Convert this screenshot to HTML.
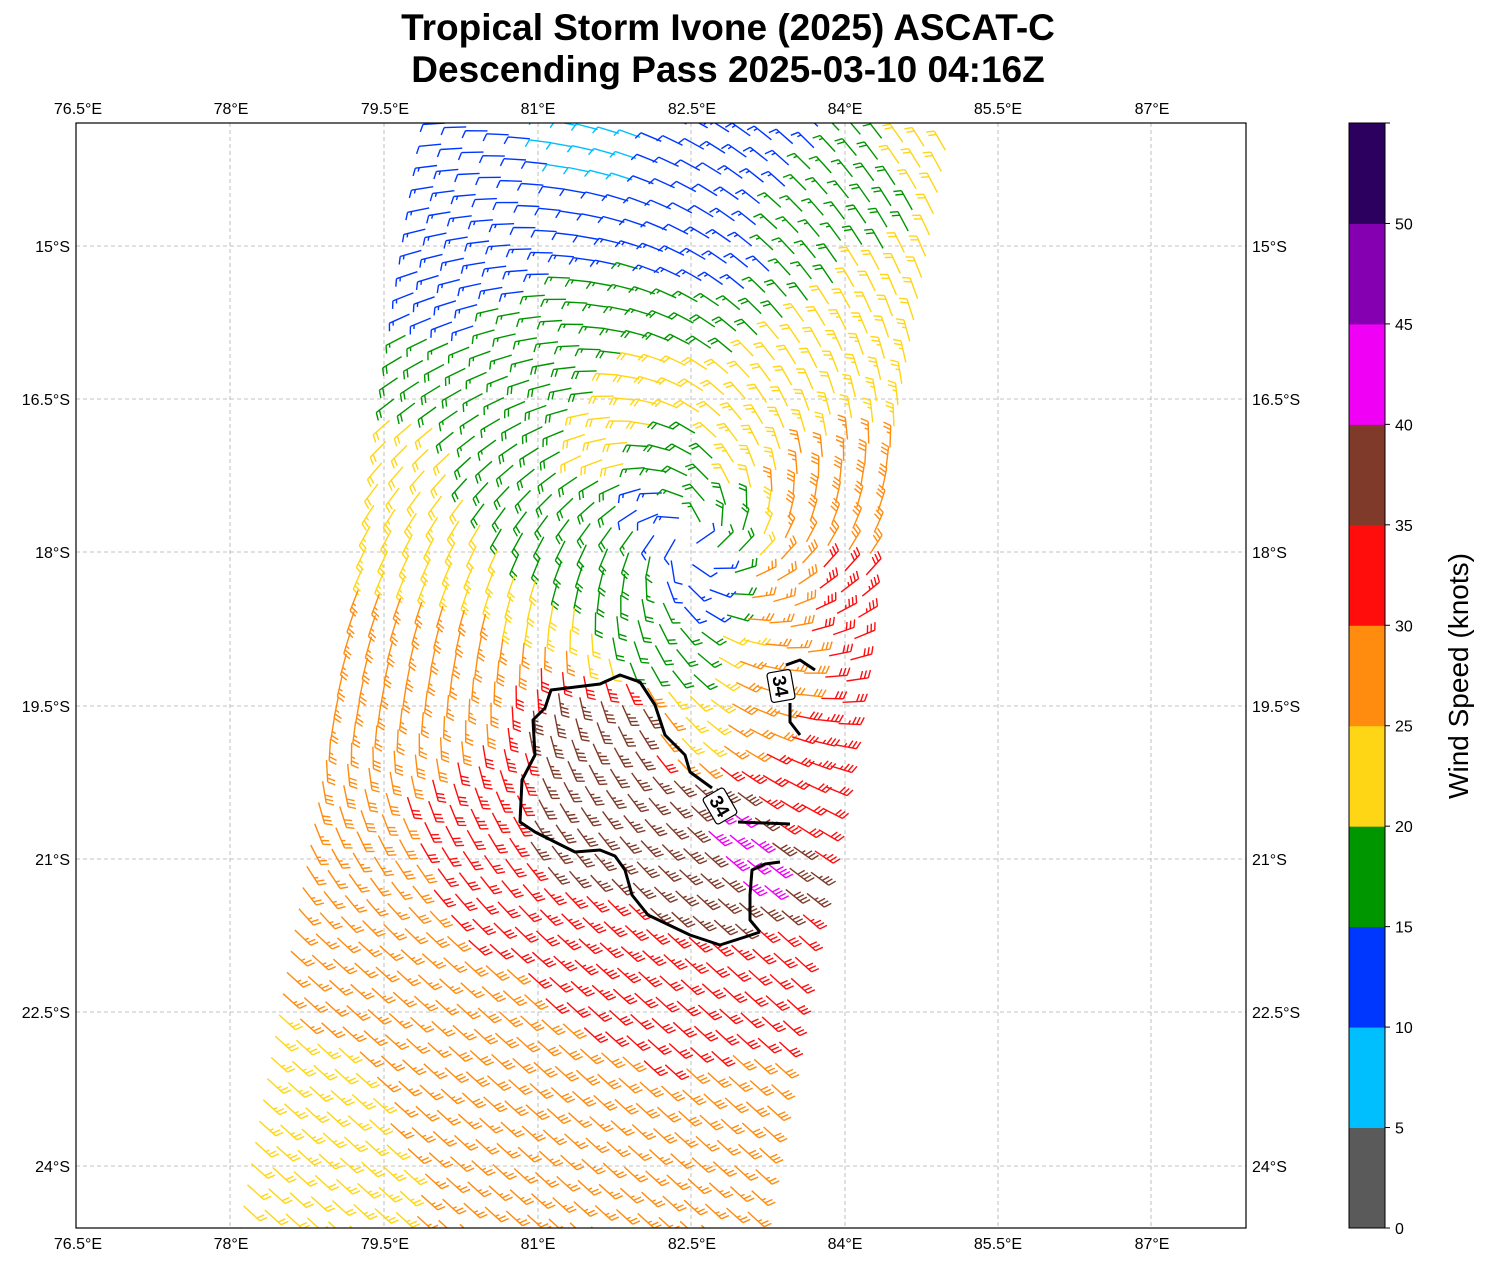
<!DOCTYPE html>
<html><head><meta charset="utf-8"><style>
body{margin:0;background:#fff;}
svg{display:block;font-family:"Liberation Sans",sans-serif;}
</style></head><body>
<svg id="s" width="1485" height="1264" viewBox="0 0 1485 1264" xmlns="http://www.w3.org/2000/svg">
<defs><clipPath id="cp"><rect x="76" y="123" width="1170" height="1105"/></clipPath></defs>
<rect width="1485" height="1264" fill="#fff"/>
<text x="728" y="40" text-anchor="middle" font-size="37" font-weight="bold">Tropical Storm Ivone (2025) ASCAT-C</text>
<text x="728" y="82" text-anchor="middle" font-size="37" font-weight="bold">Descending Pass 2025-03-10 04:16Z</text>
<g stroke="#b0b0b0" stroke-width="0.8" stroke-dasharray="4,3">
<line x1="230" y1="123" x2="230" y2="1228"/><line x1="384" y1="123" x2="384" y2="1228"/><line x1="538" y1="123" x2="538" y2="1228"/><line x1="691" y1="123" x2="691" y2="1228"/><line x1="845" y1="123" x2="845" y2="1228"/><line x1="998" y1="123" x2="998" y2="1228"/><line x1="1151" y1="123" x2="1151" y2="1228"/>
<line x1="76" y1="246" x2="1246" y2="246"/><line x1="76" y1="399" x2="1246" y2="399"/><line x1="76" y1="552" x2="1246" y2="552"/><line x1="76" y1="706" x2="1246" y2="706"/><line x1="76" y1="859" x2="1246" y2="859"/><line x1="76" y1="1012" x2="1246" y2="1012"/><line x1="76" y1="1166" x2="1246" y2="1166"/>
</g>
<g id="barbs" clip-path="url(#cp)" fill="none" stroke-width="1.4" stroke-linecap="butt"></g>
<g fill="none" stroke="#000" stroke-width="3" stroke-linejoin="round">
<path d="M760,932 L750,920 L750,895 L752,870 L765,864 L780,862"/>
<path d="M760,932 L745,937 L720,945 L690,935 L648,915 L632,895 L625,870 L615,856 L600,850 L575,852 L535,832 L520,822 L522,780 L535,755 L533,720 L545,708 L551,690 L600,684 L620,675 L640,682 L655,705 L665,735 L685,755 L690,772 L712,788"/>
<path d="M738,822 L790,824"/>
<path d="M786,665 L800,660 L815,670"/>
<path d="M790,703 L790,722 L800,735"/>
</g>
<g transform="translate(720,806) rotate(60)"><rect x="-15" y="-12" width="30" height="24" rx="3" fill="#fff" stroke="#000" stroke-width="1.2"/><text x="0" y="7" text-anchor="middle" font-size="19" font-weight="bold">34</text></g>
<g transform="translate(781,686) rotate(80)"><rect x="-15" y="-12" width="30" height="24" rx="3" fill="#fff" stroke="#000" stroke-width="1.2"/><text x="0" y="7" text-anchor="middle" font-size="19" font-weight="bold">34</text></g>
<rect x="76" y="123" width="1170" height="1105" fill="none" stroke="#000" stroke-width="1.2"/>
<g font-size="16" text-anchor="middle">
<text x="78" y="114">76.5°E</text><text x="231" y="114">78°E</text><text x="385" y="114">79.5°E</text><text x="538" y="114">81°E</text><text x="692" y="114">82.5°E</text><text x="845" y="114">84°E</text><text x="998" y="114">85.5°E</text><text x="1152" y="114">87°E</text>
<text x="78" y="1249">76.5°E</text><text x="231" y="1249">78°E</text><text x="385" y="1249">79.5°E</text><text x="538" y="1249">81°E</text><text x="692" y="1249">82.5°E</text><text x="845" y="1249">84°E</text><text x="998" y="1249">85.5°E</text><text x="1152" y="1249">87°E</text>
</g>
<g font-size="16" text-anchor="end">
<text x="70" y="252">15°S</text><text x="70" y="405">16.5°S</text><text x="70" y="558">18°S</text><text x="70" y="712">19.5°S</text><text x="70" y="865">21°S</text><text x="70" y="1018">22.5°S</text><text x="70" y="1172">24°S</text>
</g>
<g font-size="16" text-anchor="start">
<text x="1252" y="252">15°S</text><text x="1252" y="405">16.5°S</text><text x="1252" y="558">18°S</text><text x="1252" y="712">19.5°S</text><text x="1252" y="865">21°S</text><text x="1252" y="1018">22.5°S</text><text x="1252" y="1172">24°S</text>
</g>
<g id="cb"></g>
<text transform="translate(1468,676) rotate(-90)" text-anchor="middle" font-size="28">Wind Speed (knots)</text>
</svg>
<script>
(function(){
var cols=["#5a5a5a","#00bfff","#0037ff","#009600","#ffd615","#ff8c0f","#ff0d0d","#7f3a2a","#f000f5","#8500b0","#2c005e"];
var cb=document.getElementById("cb"),h="";
var T0=123,B0=1228,st=(B0-T0)/11;
for(var i=0;i<11;i++){h+='<rect x="1349" y="'+(B0-(i+1)*st)+'" width="36" height="'+(st+0.5)+'" fill="'+cols[i]+'"/>';}
h+='<rect x="1349" y="123" width="36" height="1105" fill="none" stroke="#000" stroke-width="1"/>';
for(var k=0;k<=10;k++){var y=B0-k*st;h+='<line x1="1385" y1="'+y+'" x2="1390" y2="'+y+'" stroke="#000"/><text x="1395" y="'+(y+6)+'" font-size="16">'+(k*5)+'</text>';}
h+='<line x1="1385" y1="123" x2="1390" y2="123" stroke="#000"/>';
cb.innerHTML=h;
var A=[[680,550,11],[650,510,12],[700,590,13],[690,460,18],[640,640,18],[620,560,19],[730,520,19],[690,665,19],[560,500,18],[600,500,19],
[650,400,22],[600,450,22],[750,450,24],[760,600,26],[700,720,24],[740,700,28],
[800,500,28],[830,600,33],[830,750,33],[800,800,31],
[600,780,37],[650,820,37],[700,880,37],[720,830,41],[740,855,42],[560,740,37],[620,710,37],[560,820,37],
[500,780,33],[480,880,31],[600,950,33],[700,1000,32],[780,980,31],[620,1050,30],[750,1100,28],[600,1150,27],[500,1050,28],[400,1000,26],[350,900,27],[300,1100,24],[280,1200,22],[500,1200,25],[700,1200,26],
[450,700,27],[380,650,26],[400,550,25],[420,450,22],[380,600,25],
[430,380,18],[480,420,17],[550,400,18],[600,330,17],[520,340,17],[450,300,14],[430,200,13],[500,250,13],[550,200,11],[600,140,8],[650,160,10],[520,140,10],[700,200,12],[750,250,14],[800,250,17],[850,200,17],[900,200,20],[930,150,21],[880,300,22],[850,350,23],[800,350,20],[900,400,24],[870,500,28],[760,150,13]];
function speed(x,y){var sw=0,sv=0;for(var n=0;n<A.length;n++){var dx=x-A[n][0],dy=y-A[n][1],d2=dx*dx+dy*dy+100,w=1/(d2*d2);sw+=w;sv+=w*A[n][2];}return sv/sw;}
function cl(v){return v<0?0:(v>1?1:v);}
var g=document.getElementById("barbs"),out="";
var sl=0.186,al=Math.sqrt(1+sl*sl),ax=-sl/al,ay=1/al,cx=ay,cy=-ax,sp=21.6;
var ox=445,oy=123;
for(var j=-3;j<56;j++){for(var i=0;i<24;i++){
  var x=ox+i*sp*cx+j*sp*ax, y=oy+i*sp*cy+j*sp*ay;
  if(y<110||y>1240)continue;
  var s=speed(x,y); if(s<1)s=1;
  var ci=Math.min(10,Math.floor(s/5));
  var ddx=x-688,ddy=y-540,rr=Math.sqrt(ddx*ddx+ddy*ddy)+0.01;
  var rx=ddx/rr,ry=ddy/rr;
  var Tx=-ry,Ty=rx;
  var kk=0.5+0.5*Math.max(0,ry);
  var wx=Tx-kk*rx,wy=Ty-kk*ry;
  var dx=-wx,dy=-wy,dl=Math.sqrt(dx*dx+dy*dy);dx/=dl;dy/=dl;
  var bw=cl((y-720)/220);
  dx=dx*(1-bw)+0.74*bw;dy=dy*(1-bw)+0.67*bw;dl=Math.sqrt(dx*dx+dy*dy);dx/=dl;dy/=dl;
  var L=22,ex=x+dx*L,ey=y+dy*L;
  var px=dy,py=-dx;
  var fx=0.4*dx+0.92*px,fy=0.4*dy+0.92*py;
  var col=cols[ci];
  var d="M"+x.toFixed(1)+","+y.toFixed(1)+"L"+ex.toFixed(1)+","+ey.toFixed(1);
  var sr=Math.round(s/5)*5,full=Math.floor(sr/10),half=(sr%10)>=5?1:0;
  var pos=0;
  for(var n=0;n<full;n++){var bx=ex-dx*pos,by=ey-dy*pos;d+="M"+bx.toFixed(1)+","+by.toFixed(1)+"l"+(fx*8).toFixed(1)+","+(fy*8).toFixed(1);pos+=4;}
  if(half){if(full==0)pos=3;var bx=ex-dx*pos,by=ey-dy*pos;d+="M"+bx.toFixed(1)+","+by.toFixed(1)+"l"+(fx*4).toFixed(1)+","+(fy*4).toFixed(1);}
  out+='<path d="'+d+'" stroke="'+col+'"/>';
}}
g.innerHTML=out;
})();
</script>
</body></html>
